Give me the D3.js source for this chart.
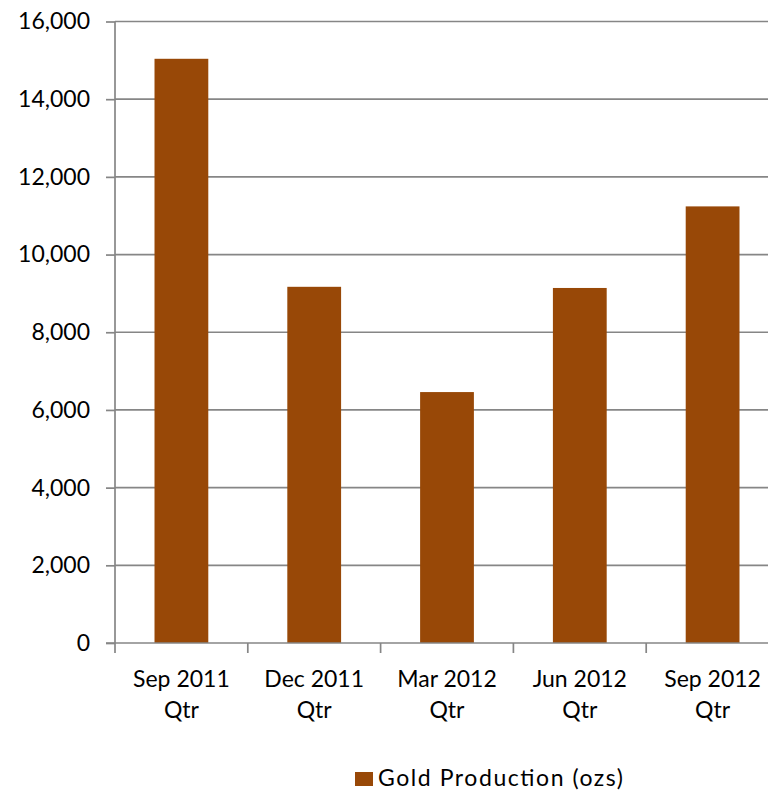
<!DOCTYPE html>
<html>
<head>
<meta charset="utf-8">
<script src="https://cdn.jsdelivr.net/npm/d3@7"></script>
<style>
  html, body { margin: 0; padding: 0; background: #fff; }
  svg { display: block; }
  text { font-family: Lato, "Open Sans", sans-serif; fill: #000; }
</style>
</head>
<body>
<svg id="chart" width="768" height="795"></svg>
<script>
// Quarterly gold production (ounces)
const quarters = ["Sep 2011 Qtr", "Dec 2011 Qtr", "Mar 2012 Qtr", "Jun 2012 Qtr", "Sep 2012 Qtr"];
const goldOzs = [15040, 9170, 6460, 9140, 11240];
const yTicks = [0, 2000, 4000, 6000, 8000, 10000, 12000, 14000, 16000];
const seriesName = "Gold Production (ozs)";

const barColor = "#984807";
const gridColor = "#868686";
const fontSize = 23;

const svg = d3.select("#chart");

const plot = { left: 115, right: 779, top: 21.5, bottom: 643 };

const x = d3.scaleBand()
  .domain(quarters)
  .range([plot.left, plot.right])
  .paddingInner(0)
  .paddingOuter(0);

const y = d3.scaleLinear()
  .domain([0, 16000])
  .range([plot.bottom, plot.top]);

const fmt = d3.format(",");

// Horizontal gridlines
svg.append("g")
  .selectAll("line")
  .data(yTicks.filter(d => d > 0))
  .join("line")
  .attr("x1", plot.left)
  .attr("x2", plot.right)
  .attr("y1", d => y(d))
  .attr("y2", d => y(d))
  .attr("stroke", gridColor)
  .attr("stroke-width", 1.7);

// Bars (about 40% of each category slot)
const barW = x.bandwidth() * 0.405;
svg.append("g")
  .selectAll("rect")
  .data(quarters.map((q, i) => ({ q, v: goldOzs[i] })))
  .join("rect")
  .attr("x", d => x(d.q) + (x.bandwidth() - barW) / 2)
  .attr("y", d => y(d.v))
  .attr("width", barW)
  .attr("height", d => y(0) - y(d.v))
  .attr("fill", barColor);

// Y axis
const yAxis = d3.axisLeft(y)
  .tickValues(yTicks)
  .tickFormat(fmt)
  .tickSize(9)
  .tickPadding(16);

const gy = svg.append("g")
  .attr("transform", `translate(${plot.left},0)`)
  .call(yAxis);
gy.select(".domain").attr("stroke", gridColor).attr("stroke-width", 1.7)
  .attr("d", `M0,${plot.bottom}V${plot.top}`);
gy.selectAll(".tick line").attr("stroke", gridColor).attr("stroke-width", 1.7);
gy.selectAll(".tick text")
  .style("font-size", fontSize + "px")
  .style("font-family", "Lato, 'Open Sans', sans-serif")
  .attr("fill", "#000");

// X axis: baseline plus ticks at category boundaries
const boundaries = quarters.map(q => x(q)).concat([plot.right]);
svg.append("line")
  .attr("x1", plot.left - 9)
  .attr("x2", plot.right)
  .attr("y1", y(0))
  .attr("y2", y(0))
  .attr("stroke", gridColor)
  .attr("stroke-width", 1.7);
svg.append("g")
  .selectAll("line")
  .data(boundaries)
  .join("line")
  .attr("x1", d => d)
  .attr("x2", d => d)
  .attr("y1", y(0))
  .attr("y2", y(0) + 10)
  .attr("stroke", gridColor)
  .attr("stroke-width", 1.7);

// Category labels, two lines each
const lbl = svg.append("g")
  .selectAll("text")
  .data(quarters)
  .join("text")
  .attr("text-anchor", "middle")
  .attr("x", d => x(d) + x.bandwidth() / 2)
  .attr("y", 687)
  .style("font-size", fontSize + "px");
lbl.each(function (d) {
  const parts = d.split(" ");
  const first = parts.slice(0, 2).join(" ");
  const second = parts.slice(2).join(" ");
  const t = d3.select(this);
  t.append("tspan").attr("x", x(d) + x.bandwidth() / 2).attr("dy", 0).text(first);
  t.append("tspan").attr("x", x(d) + x.bandwidth() / 2).attr("dy", 31).text(second);
});

// Legend
const legend = svg.append("g");
legend.append("rect")
  .attr("x", 355)
  .attr("y", 772)
  .attr("width", 18)
  .attr("height", 14)
  .attr("fill", barColor);
legend.append("text")
  .attr("x", 378)
  .attr("y", 786)
  .attr("textLength", 245)
  .attr("lengthAdjust", "spacing")
  .style("font-size", fontSize + "px")
  .text(seriesName);
</script>
</body>
</html>
